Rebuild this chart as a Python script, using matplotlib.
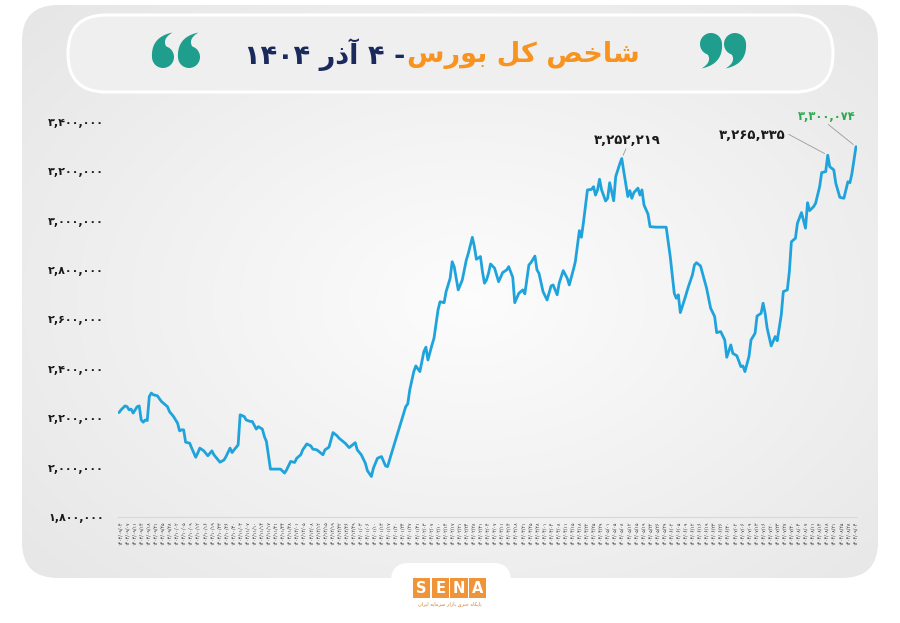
import numpy as np
import matplotlib
matplotlib.use("Agg")
import matplotlib.pyplot as plt
from matplotlib.patches import FancyBboxPatch, Rectangle, Circle, Polygon
from matplotlib.ticker import FuncFormatter, FixedLocator
from matplotlib.transforms import offset_copy

# ---- data: calendar-day offset from 1403/09/04 and TEDPIX value (thousands) ----
days = [
    0, 1, 3, 4, 5, 6, 7, 9, 10, 11,
    12, 13, 14, 15, 16, 17, 19, 21, 23, 24,
    25, 27, 29, 30, 31, 32, 33, 35, 36, 38,
    39, 40, 42, 44, 46, 47, 50, 52, 53, 55,
    56, 57, 59, 60, 62, 63, 65, 66, 68, 69,
    71, 72, 73, 75, 76, 80, 82, 83, 85, 87,
    88, 90, 91, 93, 95, 96, 98, 100, 101, 102,
    104, 106, 108, 109, 112, 114, 117, 118, 120, 122,
    123, 125, 126, 128, 130, 132, 133, 135, 137, 138,
    140, 142, 143, 144, 146, 147, 149, 151, 152, 153,
    155, 156, 158, 159, 161, 162, 164, 165, 166, 168,
    170, 172, 173, 175, 176, 177, 179, 180, 181, 182,
    183, 184, 186, 188, 190, 192, 193, 195, 196, 198,
    200, 201, 203, 204, 206, 207, 208, 210, 212, 214,
    215, 217, 218, 220, 222, 223, 225, 226, 228, 229,
    230, 232, 234, 235, 236, 237, 238, 239, 241, 242,
    243, 245, 246, 248, 249, 250, 252, 253, 254, 255,
    257, 258, 259, 260, 262, 263, 266, 271, 273, 275,
    276, 277, 278, 280, 282, 284, 285, 286, 288, 289,
    291, 293, 295, 296, 298, 300, 301, 303, 304, 306,
    308, 309, 310, 312, 313, 315, 316, 318, 319, 320,
    321, 323, 325, 326, 328, 329, 331, 332, 333, 335,
    336, 338, 340, 341, 342, 344, 345, 347, 348, 350,
    351, 352, 354, 355, 357, 359, 360, 361, 362, 363,
    365,
]
index_k = [
    2223, 2234, 2250, 2247, 2234, 2237, 2221, 2247, 2250, 2193,
    2184, 2193, 2191, 2288, 2302, 2295, 2291, 2268, 2254, 2247,
    2227, 2207, 2180, 2149, 2153, 2153, 2103, 2099, 2079, 2042,
    2059, 2079, 2068, 2048, 2068, 2052, 2022, 2031, 2045, 2079,
    2061, 2072, 2092, 2214, 2207, 2193, 2187, 2187, 2156, 2166,
    2156, 2126, 2106, 1994, 1994, 1994, 1978, 1991, 2025, 2021,
    2038, 2052, 2072, 2096, 2088, 2075, 2072, 2059, 2052, 2072,
    2083, 2142, 2129, 2119, 2099, 2081, 2101, 2072, 2052, 2018,
    1988, 1964, 1998, 2038, 2045, 2007, 2004, 2059, 2112, 2140,
    2193, 2247, 2258, 2315, 2389, 2412, 2389, 2470, 2488, 2436,
    2497, 2524, 2639, 2672, 2668, 2713, 2767, 2834, 2814, 2720,
    2760, 2841, 2868, 2933, 2895, 2844, 2855, 2794, 2747, 2760,
    2787, 2825, 2808, 2753, 2790, 2801, 2814, 2771, 2668, 2706,
    2720, 2704, 2821, 2830, 2857, 2801, 2787, 2713, 2679, 2736,
    2740, 2700, 2747, 2798, 2767, 2740, 2801, 2834, 2960, 2933,
    2992, 3125, 3127, 3138, 3104, 3125, 3168, 3125, 3080, 3091,
    3154, 3081, 3179, 3230, 3252.219, 3199, 3098, 3122, 3091, 3114,
    3132, 3104, 3125, 3064, 3027, 2976, 2974, 2974, 2855, 2706,
    2686, 2700, 2628, 2679, 2733, 2781, 2821, 2830, 2817, 2787,
    2727, 2646, 2612, 2547, 2551, 2517, 2447, 2497, 2463, 2453,
    2409, 2412, 2389, 2450, 2517, 2544, 2614, 2625, 2666, 2625,
    2565, 2493, 2531, 2514, 2619, 2713, 2720, 2794, 2915, 2929,
    2990, 3033, 2970, 3073, 3041, 3057, 3071, 3138, 3195, 3199,
    3265.335, 3219, 3206, 3152, 3095, 3091, 3125, 3158, 3154, 3192,
    3300.074,
]

tick_dates = [
    "1403/09/04", "1403/09/07", "1403/09/11", "1403/09/14", "1403/09/18", "1403/09/21", "1403/09/25", "1403/09/28",
    "1403/10/02", "1403/10/05", "1403/10/09", "1403/10/12", "1403/10/16", "1403/10/19", "1403/10/23", "1403/10/26", "1403/10/30",
    "1403/11/03", "1403/11/07", "1403/11/10", "1403/11/14", "1403/11/17", "1403/11/21", "1403/11/24", "1403/11/28",
    "1403/12/01", "1403/12/05", "1403/12/08", "1403/12/12", "1403/12/15", "1403/12/19", "1403/12/22", "1403/12/26", "1403/12/29",
    "1404/01/03", "1404/01/06", "1404/01/10", "1404/01/13", "1404/01/17", "1404/01/20", "1404/01/24", "1404/01/27", "1404/01/31",
    "1404/02/03", "1404/02/07", "1404/02/10", "1404/02/14", "1404/02/17", "1404/02/21", "1404/02/24", "1404/02/28", "1404/02/31",
    "1404/03/04", "1404/03/07", "1404/03/11", "1404/03/14", "1404/03/18", "1404/03/21", "1404/03/25", "1404/03/28",
    "1404/04/01", "1404/04/04", "1404/04/08", "1404/04/11", "1404/04/15", "1404/04/18", "1404/04/22", "1404/04/25", "1404/04/29",
    "1404/05/01", "1404/05/05", "1404/05/08", "1404/05/12", "1404/05/15", "1404/05/19", "1404/05/22", "1404/05/26", "1404/05/29",
    "1404/06/02", "1404/06/05", "1404/06/09", "1404/06/12", "1404/06/16", "1404/06/19", "1404/06/23", "1404/06/26", "1404/06/30",
    "1404/07/02", "1404/07/06", "1404/07/09", "1404/07/13", "1404/07/16", "1404/07/20", "1404/07/23", "1404/07/27", "1404/07/30",
    "1404/08/04", "1404/08/07", "1404/08/11", "1404/08/14", "1404/08/18", "1404/08/21", "1404/08/25", "1404/08/28",
    "1404/09/04",
]

y_ticks = [1800000, 2000000, 2200000, 2400000, 2600000, 2800000, 3000000, 3200000, 3400000]

# Persian text pre-shaped (Arabic presentation forms, visual left-to-right order)
title_orange = "\uFEB1\uFEAD\uFEEE\uFE91 \uFEDE\uFEDB \uFEBA\uFEA7\uFE8E\uFEB7"   # شاخص کل بورس
title_navy = "\u06F1\u06F4\u06F0\u06F4 \uFEAD\uFEAB\uFE81 \u06F4 -"              # - ۴ آذر ۱۴۰۴
logo_sub = ("\uFEE5\uFE8D\uFEAE\uFEF3\uFE8D \uFEEA\uFEF3\uFE8E\uFEE3\uFEAE\uFEB3 "
            "\uFEAD\uFE8D\uFEAF\uFE8E\uFE91 \uFEEF\uFEAE\uFE92\uFEA7 "
            "\uFEE9\uFE8E\uFEDC\uFEF3\uFE8E\uFE91")                                 # پایگاه خبری بازار سرمایه ایران

PD = str.maketrans("0123456789", "\u06F0\u06F1\u06F2\u06F3\u06F4\u06F5\u06F6\u06F7\u06F8\u06F9")


def fa(s):
    return s.translate(PD)


values = np.array(index_k) * 1000.0

W, H = 900, 623
fig = plt.figure(figsize=(W / 100, H / 100), dpi=100)
fig.patch.set_facecolor("white")

# ---------- decorative background ----------
bg = fig.add_axes([0, 0, 1, 1])
bg.set_xlim(0, W)
bg.set_ylim(H, 0)
bg.axis("off")

yy, xx = np.mgrid[0:H, 0:W]
r = np.sqrt(((xx - 470) / 520.0) ** 2 + ((yy - 300) / 360.0) ** 2)
g = 0.99 - 0.075 * np.clip(r, 0, 1.4)
img = bg.imshow(np.dstack([g, g, g]), extent=(0, W, H, 0), zorder=0, interpolation="bilinear")
card = FancyBboxPatch((22, 5), 856, 573, boxstyle="round,pad=0,rounding_size=36",
                      facecolor="none", edgecolor="none", zorder=1)
bg.add_patch(card)
img.set_clip_path(card)

# white tab for the logo
bg.add_patch(FancyBboxPatch((391, 563), 120, 90, boxstyle="round,pad=0,rounding_size=18",
                            facecolor="white", edgecolor="none", zorder=2))

# title pill
bg.add_patch(FancyBboxPatch((68, 15), 765, 77, boxstyle="round,pad=0,rounding_size=38",
                            facecolor="#efefef", edgecolor="white", linewidth=2.2, zorder=2))
bg.text(405, 55, title_navy, ha="right", va="center", fontsize=19.5, fontweight="bold",
        color="#1b2a5c", family="DejaVu Sans", zorder=3)
bg.text(407, 55, title_orange, ha="left", va="center", fontsize=19.5, fontweight="bold",
        color="#f7931e", family="DejaVu Sans", zorder=3)


def bez(p0, p1, p2, n=16):
    t = np.linspace(0, 1, n)[:, None]
    return (1 - t) ** 2 * np.array(p0) + 2 * (1 - t) * t * np.array(p1) + t ** 2 * np.array(p2)


def quote_mark(cx, cy, flip, color="#1f9e8e", rad=11.0):
    s = -1.0 if flip else 1.0
    outer = bez((-rad, 1.0), (-rad - 1.5, -20.0), (9.5, -24.5))
    inner = bez((9.5, -24.5), (-1.5, -18.0), (3.5, -10.0))
    pts = np.vstack([outer, inner]) * s + np.array([cx, cy])
    bg.add_patch(Polygon(pts, closed=True, facecolor=color, edgecolor="none", zorder=3))
    bg.add_patch(Circle((cx, cy), rad, facecolor=color, edgecolor="none", zorder=3))


quote_mark(163, 57, False)
quote_mark(189, 57, False)
quote_mark(711, 44, True)
quote_mark(735, 44, True)

# SENA logo
for i, ch in enumerate("SENA"):
    x0 = 413 + i * 18.7
    bg.add_patch(Rectangle((x0, 578), 17.2, 20, facecolor="#f0943a", edgecolor="none", zorder=3))
    bg.text(x0 + 8.6, 588.5, ch, ha="center", va="center", fontsize=10.5, fontweight="bold",
            color="white", family="DejaVu Sans", zorder=4)
bg.text(450, 604, logo_sub, ha="center", va="center", fontsize=3.6, color="#c8803a",
        family="DejaVu Sans", zorder=4)

# ---------- chart ----------
ax = fig.add_axes([118 / W, 1 - 517 / H, (857 - 118) / W, (517 - 122) / H])
ax.patch.set_alpha(0)
ax.plot(days, values, color="#1fa3dc", lw=2.0, solid_joinstyle="round", solid_capstyle="round", zorder=3)
ax.set_xlim(-0.5, 365.5)
ax.set_ylim(1800000, 3400000)

ax.yaxis.set_major_locator(FixedLocator(y_ticks))
ax.yaxis.set_major_formatter(FuncFormatter(lambda v, p: fa(f"{v:,.0f}")))
ax.tick_params(axis="y", length=0, pad=10, labelsize=8, labelcolor="#1a1a1a")
for lab in ax.get_yticklabels():
    lab.set_fontweight("bold")
    lab.set_family("DejaVu Sans")

tick_pos = np.linspace(0.5, 364.5, len(tick_dates))
ax.set_xticks(tick_pos)
ax.set_xticklabels([fa(t) for t in tick_dates], rotation=90, fontsize=3.4, color="#333333",
                   family="DejaVu Sans")
ax.tick_params(axis="x", length=0, pad=3)

for s in ["top", "right", "left"]:
    ax.spines[s].set_visible(False)
ax.spines["bottom"].set_color("#d8d8d8")
ax.spines["bottom"].set_linewidth(0.8)

# annotations: label text + thin grey leader line
i1 = index_k.index(3252.219)
i2 = index_k.index(3265.335)
i3 = len(index_k) - 1
lead = dict(arrowstyle="-", color="#9a9a9a", lw=0.6, shrinkA=0, shrinkB=2.5)


def label(i, text, dx, dy, ha, va, size, color, ldx, ldy):
    p = (days[i], values[i])
    ax.text(p[0], p[1], fa(text), ha=ha, va=va, fontsize=size, fontweight="bold", color=color,
            family="DejaVu Sans",
            transform=offset_copy(ax.transData, fig=fig, x=dx, y=dy, units="points"))
    ax.annotate("", xy=p, xytext=(ldx, ldy), textcoords="offset points", arrowprops=lead)


label(i1, "3,252,219", 4, 8, "center", "bottom", 9.5, "#1a1a1a", 3, 7)
label(i2, "3,265,335", -30, 14, "right", "center", 9.5, "#1a1a1a", -28, 15)
label(i3, "3,300,074", 0, 17, "right", "bottom", 8.3, "#2ea84f", -20, 16)

fig.savefig("out.png", dpi=100, facecolor="white")
